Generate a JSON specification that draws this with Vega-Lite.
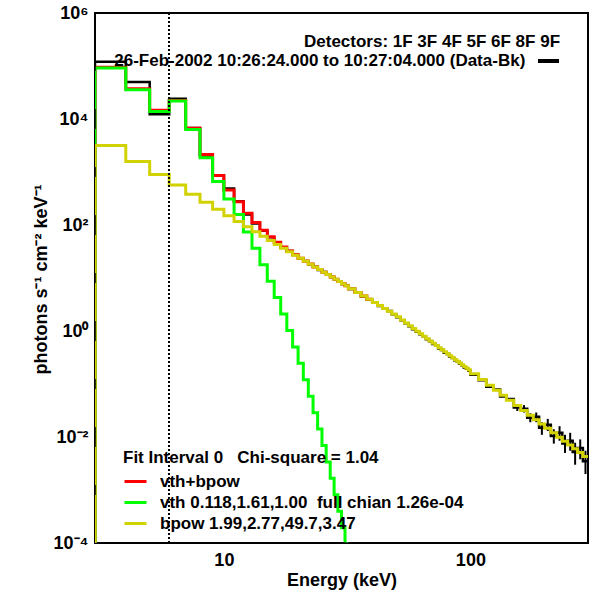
{
  "$schema": "https://vega.github.io/schema/vega-lite/v6.json",
  "width": 493,
  "height": 530,
  "autosize": {"type": "none"},
  "padding": {"left": 95, "top": 13, "right": 2, "bottom": 50},
  "background": "white",
  "config": {
    "view": {"stroke": "black", "strokeWidth": 2},
    "font": "Liberation Sans",
    "axis": {
      "domain": false, "grid": false, "ticks": false,
      "labelFont": "Liberation Sans", "labelFontWeight": "bold", "labelFontSize": 18, "labelColor": "black",
      "labelFlush": false, "labelOverlap": false,
      "titleFont": "Liberation Sans", "titleFontWeight": "bold", "titleFontSize": 18, "titleColor": "black"
    }
  },
  "datasets": {
    "xt": [
      {"v": 4, "k": "minor"}, {"v": 5, "k": "minor"}, {"v": 6, "k": "minor"}, {"v": 7, "k": "minor"},
      {"v": 8, "k": "minor"}, {"v": 9, "k": "minor"}, {"v": 10, "k": "major"}, {"v": 20, "k": "minor"},
      {"v": 30, "k": "minor"}, {"v": 40, "k": "minor"}, {"v": 50, "k": "minor"}, {"v": 60, "k": "minor"},
      {"v": 70, "k": "minor"}, {"v": 80, "k": "minor"}, {"v": 90, "k": "minor"}, {"v": 100, "k": "major"},
      {"v": 200, "k": "minor"}
    ],
    "yt": [
      {"v": 0.001, "k": "minor"}, {"v": 0.01, "k": "major"}, {"v": 0.1, "k": "minor"}, {"v": 1, "k": "major"},
      {"v": 10, "k": "minor"}, {"v": 100, "k": "major"}, {"v": 1000, "k": "minor"}, {"v": 10000, "k": "major"},
      {"v": 100000, "k": "minor"}
    ]
  },
  "data": {"values": [
    {"e": 3, "D": 1e-6, "R": 1e-6, "G": 1e-6, "Y": 1e-6},
    {"e": 4, "D": 1.20e5, "R": 9.44e4, "G": 9.12e4, "Y": 3148},
    {"e": 5, "D": 5.01e4, "R": 3.71e4, "G": 3.55e4, "Y": 1570},
    {"e": 6, "D": 1.23e4, "R": 1.47e4, "G": 1.38e4, "Y": 899},
    {"e": 7, "D": 2.40e4, "R": 2.24e4, "G": 2.19e4, "Y": 566},
    {"e": 8, "D": 6760, "R": 6690, "G": 6310, "Y": 381},
    {"e": 9, "D": 2040, "R": 2130, "G": 1860, "Y": 270},
    {"e": 10, "D": 851, "R": 859, "G": 661, "Y": 198},
    {"e": 11, "D": 490, "R": 459, "G": 309, "Y": 150},
    {"e": 12, "D": 282, "R": 275, "G": 158.5, "Y": 116.7},
    {"e": 13, "D": 158.5, "R": 166.8, "G": 74.1, "Y": 92.7},
    {"e": 14, "D": 107, "R": 111.1, "G": 36.3, "Y": 74.8},
    {"e": 15, "D": 77.6, "R": 79.2, "G": 17.8, "Y": 61.4},
    {"e": 16, "D": 58.9, "R": 59.8, "G": 8.71, "Y": 51.1},
    {"e": 17, "D": 46.8, "R": 47.3, "G": 4.27, "Y": 43.0},
    {"e": 18, "D": 38.0, "R": 38.6, "G": 2.09, "Y": 36.5},
    {"e": 19, "D": 32.4, "R": 32.3, "G": 1.02, "Y": 31.3},
    {"e": 20, "D": 27.5, "R": 27.5, "G": 0.501, "Y": 27.0},
    {"e": 21, "D": 23.4, "R": 23.7, "G": 0.245, "Y": 23.5},
    {"e": 22, "D": 20.9, "R": 20.7, "G": 0.120, "Y": 20.6},
    {"e": 23, "D": 18.0, "R": 18.3, "G": 0.0589, "Y": 18.2},
    {"e": 24, "D": 16.3, "R": 16.1, "G": 0.0288, "Y": 16.1},
    {"e": 25, "D": 14.2, "R": 14.4, "G": 0.0141, "Y": 14.4},
    {"e": 26, "D": 13.0, "R": 12.9, "G": 0.00692, "Y": 12.9},
    {"e": 27, "D": 11.5, "R": 11.6, "G": 0.00339, "Y": 11.6},
    {"e": 28, "D": 10.5, "R": 10.4, "G": 0.00166, "Y": 10.4},
    {"e": 29, "D": 9.3, "R": 9.44, "G": 0.000813, "Y": 9.44},
    {"e": 30, "D": 8.7, "R": 8.59, "G": 0.000398, "Y": 8.59},
    {"e": 31, "D": 7.7, "R": 7.83, "G": 0.000195, "Y": 7.83},
    {"e": 32, "D": 7.2, "R": 7.16, "G": 0.0000955, "Y": 7.16},
    {"e": 34, "D": 6.2, "R": 6.30, "Y": 6.30},
    {"e": 36, "D": 5.4, "R": 5.35, "Y": 5.35},
    {"e": 38, "D": 4.5, "R": 4.58, "Y": 4.58},
    {"e": 40, "D": 3.9, "R": 3.96, "Y": 3.96},
    {"e": 42, "D": 3.5, "Y": 3.45},
    {"e": 44, "D": 2.95, "Y": 3.02},
    {"e": 46, "D": 2.63, "Y": 2.67},
    {"e": 48, "D": 2.38, "Y": 2.36},
    {"e": 50, "D": 2.06, "Y": 2.10},
    {"e": 52, "D": 1.82, "Y": 1.85},
    {"e": 54, "D": 1.60, "Y": 1.62},
    {"e": 56, "D": 1.40, "Y": 1.42},
    {"e": 58, "D": 1.23, "Y": 1.26},
    {"e": 60, "D": 1.08, "Y": 1.11},
    {"e": 62, "D": 0.97, "Y": 0.9945},
    {"e": 64, "D": 0.87, "Y": 0.889},
    {"e": 66, "D": 0.80, "Y": 0.798},
    {"e": 68, "D": 0.70, "Y": 0.718},
    {"e": 70, "D": 0.64, "Y": 0.649},
    {"e": 72, "D": 0.57, "Y": 0.587},
    {"e": 74, "D": 0.53, "Y": 0.533},
    {"e": 76, "D": 0.47, "Y": 0.485},
    {"e": 78, "D": 0.44, "Y": 0.443},
    {"e": 80, "D": 0.39, "Y": 0.405},
    {"e": 82, "D": 0.37, "Y": 0.372},
    {"e": 84, "D": 0.33, "Y": 0.341},
    {"e": 86, "D": 0.31, "Y": 0.3145},
    {"e": 88, "D": 0.28, "Y": 0.290},
    {"e": 90, "D": 0.27, "Y": 0.268},
    {"e": 92, "D": 0.24, "Y": 0.248},
    {"e": 94, "D": 0.225, "Y": 0.230},
    {"e": 96, "D": 0.205, "Y": 0.214},
    {"e": 98, "D": 0.195, "Y": 0.199},
    {"e": 100, "D": 0.18, "Y": 0.185},
    {"e": 108, "D": 0.150, "Y": 0.156},
    {"e": 116, "D": 0.118, "Y": 0.121},
    {"e": 124, "D": 0.089, "Y": 0.0951},
    {"e": 132, "D": 0.079, "Y": 0.0760},
    {"e": 140, "D": 0.058, "Y": 0.0615},
    {"e": 150, "D": 0.052, "Y": 0.0493},
    {"e": 160, "D": 0.036, "Y": 0.0391, "em": 155, "lo": 0.031, "hi": 0.042},
    {"e": 170, "D": 0.034, "Y": 0.0315, "em": 165, "lo": 0.029, "hi": 0.040},
    {"e": 180, "D": 0.023, "Y": 0.0256, "em": 175, "lo": 0.019, "hi": 0.028},
    {"e": 190, "D": 0.024, "Y": 0.0211, "em": 185, "lo": 0.019, "hi": 0.029},
    {"e": 200, "D": 0.015, "Y": 0.0176, "em": 195, "lo": 0.011, "hi": 0.019},
    {"e": 212, "D": 0.017, "Y": 0.0146, "em": 206, "lo": 0.013, "hi": 0.022},
    {"e": 224, "D": 0.0105, "Y": 0.0120, "em": 218, "lo": 0.0075, "hi": 0.014},
    {"e": 236, "D": 0.012, "Y": 0.00993, "em": 230, "lo": 0.0085, "hi": 0.016},
    {"e": 248, "D": 0.0075, "Y": 0.00834, "em": 242, "lo": 0.005, "hi": 0.011},
    {"e": 260, "D": 0.0085, "Y": 0.00705, "em": 254, "lo": 0.0055, "hi": 0.012},
    {"e": 272, "D": 0.0052, "Y": 0.00600, "em": 266, "lo": 0.003, "hi": 0.0078},
    {"e": 286, "D": 0.0062, "Y": 0.00508, "em": 279, "lo": 0.0038, "hi": 0.009},
    {"e": 300, "D": 0.0035, "Y": 0.00429, "em": 293, "lo": 0.002, "hi": 0.0055}
  ]},
  "layer": [
    {
      "mark": {"type": "line", "interpolate": "step-before", "color": "black", "strokeWidth": 2.5, "clip": true},
      "encoding": {
        "x": {"field": "e", "type": "quantitative",
              "scale": {"type": "log", "domain": [3, 300], "nice": false},
              "axis": {"orient": "bottom", "values": [10, 100], "labelPadding": 8,
                       "labelExpr": "format(datum.value, 'd')", "title": "Energy (keV)", "titleY": 37, "titleBaseline": "middle"}},
        "y": {"field": "D", "type": "quantitative",
              "scale": {"type": "log", "domain": [0.0001, 1000000], "nice": false},
              "axis": {"orient": "left", "values": [0.0001, 0.01, 1, 100, 10000, 1000000], "labelPadding": 7,
                       "labelExpr": "datum.value < 0.001 ? '10⁻⁴' : datum.value < 0.1 ? '10⁻²' : datum.value < 10 ? '10⁰' : datum.value < 1000 ? '10²' : datum.value < 100000 ? '10⁴' : '10⁶'",
                       "title": "photons s⁻¹ cm⁻² keV⁻¹", "titleX": -54, "titleY": 266, "titleAngle": -90, "titleBaseline": "middle", "titleAlign": "center"}}
      }
    },
    {
      "mark": {"type": "rule", "color": "black", "strokeWidth": 2, "clip": true},
      "encoding": {
        "x": {"field": "em", "type": "quantitative"},
        "y": {"field": "lo", "type": "quantitative"},
        "y2": {"field": "hi"}
      }
    },
    {
      "mark": {"type": "line", "interpolate": "step-before", "strokeWidth": 3, "clip": true},
      "encoding": {
        "x": {"field": "e", "type": "quantitative"},
        "y": {"field": "R", "type": "quantitative"},
        "color": {"datum": "vth+bpow"}
      }
    },
    {
      "mark": {"type": "line", "interpolate": "step-before", "strokeWidth": 3, "clip": true},
      "encoding": {
        "x": {"field": "e", "type": "quantitative"},
        "y": {"field": "G", "type": "quantitative"},
        "color": {"datum": "vth 0.118,1.61,1.00\u00a0 full chian 1.26e-04"}
      }
    },
    {
      "mark": {"type": "line", "interpolate": "step-before", "strokeWidth": 3, "clip": true},
      "encoding": {
        "x": {"field": "e", "type": "quantitative"},
        "y": {"field": "Y", "type": "quantitative"},
        "color": {"datum": "bpow 1.99,2.77,49.7,3.47",
                  "scale": {"domain": ["vth+bpow", "vth 0.118,1.61,1.00\u00a0 full chian 1.26e-04", "bpow 1.99,2.77,49.7,3.47"],
                            "range": ["#ff0000", "#00ff00", "#d2d200"]},
                  "legend": {"orient": "none", "legendX": 28, "legendY": 437,
                             "title": "Fit Interval 0\u00a0\u00a0 Chi-square = 1.04", "titleLimit": 600,
                             "titleFont": "Liberation Sans", "titleFontSize": 17, "titleFontWeight": "bold", "titleColor": "black", "titlePadding": 2,
                             "labelFont": "Liberation Sans", "labelFontSize": 17, "labelFontWeight": "bold", "labelColor": "black", "labelLimit": 600,
                             "symbolType": "stroke", "symbolSize": 484, "symbolStrokeWidth": 3, "rowPadding": 0, "labelOffset": 12, "padding": 0}}
      }
    },
    {
      "mark": {"type": "rule", "color": "black", "strokeWidth": 1.5, "strokeDash": [2, 2]},
      "encoding": {"x": {"datum": 6}}
    },
    {
      "data": {"name": "xt"},
      "transform": [{"filter": "datum.k == 'major'"}],
      "mark": {"type": "tick", "orient": "horizontal", "color": "black", "thickness": 1.5, "size": 20, "opacity": 1, "clip": true},
      "encoding": {"x": {"field": "v", "type": "quantitative"}, "y": {"datum": 0.0001}}
    },
    {
      "data": {"name": "xt"},
      "transform": [{"filter": "datum.k == 'minor'"}],
      "mark": {"type": "tick", "orient": "horizontal", "color": "black", "thickness": 1.5, "size": 10, "opacity": 1, "clip": true},
      "encoding": {"x": {"field": "v", "type": "quantitative"}, "y": {"datum": 0.0001}}
    },
    {
      "data": {"name": "xt"},
      "transform": [{"filter": "datum.k == 'major'"}],
      "mark": {"type": "tick", "orient": "horizontal", "color": "black", "thickness": 1.5, "size": 20, "opacity": 1, "clip": true},
      "encoding": {"x": {"field": "v", "type": "quantitative"}, "y": {"datum": 1000000}}
    },
    {
      "data": {"name": "xt"},
      "transform": [{"filter": "datum.k == 'minor'"}],
      "mark": {"type": "tick", "orient": "horizontal", "color": "black", "thickness": 1.5, "size": 10, "opacity": 1, "clip": true},
      "encoding": {"x": {"field": "v", "type": "quantitative"}, "y": {"datum": 1000000}}
    },
    {
      "data": {"name": "yt"},
      "transform": [{"filter": "datum.k == 'major'"}],
      "mark": {"type": "tick", "orient": "vertical", "color": "black", "thickness": 1.5, "size": 20, "opacity": 1, "clip": true},
      "encoding": {"y": {"field": "v", "type": "quantitative"}, "x": {"datum": 3}}
    },
    {
      "data": {"name": "yt"},
      "transform": [{"filter": "datum.k == 'minor'"}],
      "mark": {"type": "tick", "orient": "vertical", "color": "black", "thickness": 1.5, "size": 10, "opacity": 1, "clip": true},
      "encoding": {"y": {"field": "v", "type": "quantitative"}, "x": {"datum": 3}}
    },
    {
      "data": {"name": "yt"},
      "transform": [{"filter": "datum.k == 'major'"}],
      "mark": {"type": "tick", "orient": "vertical", "color": "black", "thickness": 1.5, "size": 20, "opacity": 1, "clip": true},
      "encoding": {"y": {"field": "v", "type": "quantitative"}, "x": {"datum": 300}}
    },
    {
      "data": {"name": "yt"},
      "transform": [{"filter": "datum.k == 'minor'"}],
      "mark": {"type": "tick", "orient": "vertical", "color": "black", "thickness": 1.5, "size": 10, "opacity": 1, "clip": true},
      "encoding": {"y": {"field": "v", "type": "quantitative"}, "x": {"datum": 300}}
    },
    {
      "data": {"values": [{"t": "Detectors: 1F 3F 4F 5F 6F 8F 9F"}]},
      "mark": {"type": "text", "align": "right", "baseline": "middle", "font": "Liberation Sans", "fontSize": 17, "fontWeight": "bold", "color": "black"},
      "encoding": {"x": {"datum": 231}, "y": {"datum": 284000}, "text": {"field": "t"}}
    },
    {
      "data": {"values": [{"t": "26-Feb-2002 10:26:24.000 to 10:27:04.000 (Data-Bk)"}]},
      "mark": {"type": "text", "align": "right", "baseline": "middle", "font": "Liberation Sans", "fontSize": 17, "fontWeight": "bold", "color": "black"},
      "encoding": {"x": {"datum": 167}, "y": {"datum": 124000}, "text": {"field": "t"}}
    },
    {
      "mark": {"type": "rule", "color": "black", "strokeWidth": 2.5},
      "encoding": {"x": {"datum": 188}, "x2": {"datum": 228}, "y": {"datum": 124000}}
    }
  ]
}
